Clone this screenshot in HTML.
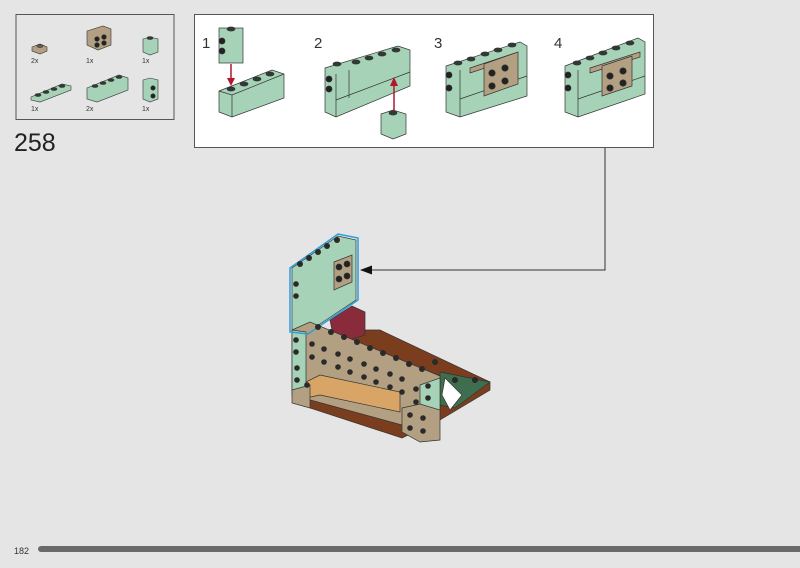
<!DOCTYPE html>
<html><head><meta charset="utf-8"><style>
html,body{margin:0;padding:0;background:#e5e5e5;}
svg{display:block}
text{font-family:"Liberation Sans",sans-serif}
</style></head><body>
<svg width="800" height="568" viewBox="0 0 800 568" xmlns="http://www.w3.org/2000/svg">
<rect width="800" height="568" fill="#e5e5e5"/>
<!-- parts box -->
<rect x="16" y="14.5" width="158" height="105" fill="#e5e5e5" stroke="#555" stroke-width="1"/>
<g stroke="#333" stroke-width="0.6">
<polygon points="32,47 40,44 47,47 47,51 40,54 32,51" fill="#b3a082"/><ellipse cx="40" cy="46" rx="3" ry="1.5" fill="#6b5b45"/>
<polygon points="87,31 103,26 111,29 111,45 98,50 87,45" fill="#b3a082"/>
<circle cx="97" cy="39" r="2.3" fill="#222"/><circle cx="104" cy="37" r="2.3" fill="#222"/><circle cx="97" cy="45" r="2.3" fill="#222"/><circle cx="104" cy="43" r="2.3" fill="#222"/>
<polygon points="143,39 150,37 158,39 158,52 150,55 143,52" fill="#a6d2b7"/><ellipse cx="150" cy="38" rx="3" ry="1.5" fill="#2f3b35"/>
<polygon points="31,97 62,84 71,86 71,90 40,102 31,100" fill="#a6d2b7"/>
<ellipse cx="38" cy="95" rx="3" ry="1.5" fill="#2f3b35"/><ellipse cx="46" cy="92" rx="3" ry="1.5" fill="#2f3b35"/><ellipse cx="54" cy="89" rx="3" ry="1.5" fill="#2f3b35"/><ellipse cx="62" cy="86" rx="3" ry="1.5" fill="#2f3b35"/>
<polygon points="87,88 119,75 128,78 128,90 97,102 87,99" fill="#a6d2b7"/>
<ellipse cx="95" cy="86" rx="3" ry="1.5" fill="#2f3b35"/><ellipse cx="103" cy="83" rx="3" ry="1.5" fill="#2f3b35"/><ellipse cx="111" cy="80" rx="3" ry="1.5" fill="#2f3b35"/><ellipse cx="119" cy="77" rx="3" ry="1.5" fill="#2f3b35"/>
<polygon points="143,80 150,78 158,80 158,99 150,102 143,99" fill="#a6d2b7"/><circle cx="153" cy="88" r="2.2" fill="#222"/><circle cx="153" cy="96" r="2.2" fill="#222"/>
</g>
<g font-size="7" fill="#333"><text x="31" y="63">2x</text><text x="86" y="63">1x</text><text x="142" y="63">1x</text><text x="31" y="111">1x</text><text x="86" y="111">2x</text><text x="142" y="111">1x</text></g>
<text x="14" y="151" font-size="25" fill="#222">258</text>
<!-- step box -->
<rect x="194.5" y="14.5" width="459" height="133" fill="#fff" stroke="#555" stroke-width="1"/>
<g font-size="15" fill="#333"><text x="202" y="48">1</text><text x="314" y="48">2</text><text x="434" y="48">3</text><text x="554" y="48">4</text></g>
<g stroke="#333" stroke-width="0.7" fill="#a6d2b7">
<rect x="219" y="28" width="24" height="35"/><ellipse cx="231" cy="29" rx="4" ry="2" fill="#2f3b35"/><circle cx="222" cy="41" r="3" fill="#222"/><circle cx="222" cy="51" r="3" fill="#222"/>
<polygon points="219,91 272,70 284,74 284,98 232,117 219,112"/><polyline points="219,91 232,95 284,74" fill="none"/><line x1="232" y1="95" x2="232" y2="117"/>
<ellipse cx="231" cy="89" rx="4" ry="2" fill="#2f3b35"/><ellipse cx="244" cy="84" rx="4" ry="2" fill="#2f3b35"/><ellipse cx="257" cy="79" rx="4" ry="2" fill="#2f3b35"/><ellipse cx="270" cy="74" rx="4" ry="2" fill="#2f3b35"/>
<polygon points="325,68 398,46 410,50 410,86 336,117 325,112"/><line x1="336" y1="74" x2="336" y2="117"/><line x1="349" y1="70" x2="349" y2="98"/><line x1="336" y1="100" x2="410" y2="72"/>
<ellipse cx="337" cy="64" rx="4" ry="2" fill="#2f3b35"/><ellipse cx="356" cy="62" rx="4" ry="2" fill="#2f3b35"/><ellipse cx="369" cy="58" rx="4" ry="2" fill="#2f3b35"/><ellipse cx="382" cy="54" rx="4" ry="2" fill="#2f3b35"/><ellipse cx="396" cy="50" rx="4" ry="2" fill="#2f3b35"/>
<circle cx="329" cy="79" r="3" fill="#222"/><circle cx="329" cy="89" r="3" fill="#222"/>
<polygon points="381,114 393,110 406,114 406,134 393,139 381,134"/><ellipse cx="393" cy="113" rx="4" ry="2" fill="#2f3b35"/>
<polygon points="446,66 520,42 527,46 527,96 460,117 446,112"/><line x1="460" y1="70" x2="460" y2="117"/><line x1="460" y1="99" x2="527" y2="76"/>
<polygon points="470,68 515,53 515,58 470,73" fill="#b3a082"/>
<polygon points="484,64 518,52 518,84 484,96" fill="#b3a082"/>
<circle cx="492" cy="73" r="3.2" fill="#222"/><circle cx="505" cy="68" r="3.2" fill="#222"/><circle cx="492" cy="86" r="3.2" fill="#222"/><circle cx="505" cy="81" r="3.2" fill="#222"/>
<ellipse cx="458" cy="63" rx="4" ry="2" fill="#2f3b35"/><ellipse cx="471" cy="59" rx="4" ry="2" fill="#2f3b35"/><ellipse cx="485" cy="54" rx="4" ry="2" fill="#2f3b35"/><ellipse cx="498" cy="50" rx="4" ry="2" fill="#2f3b35"/><ellipse cx="512" cy="45" rx="4" ry="2" fill="#2f3b35"/>
<circle cx="449" cy="75" r="3" fill="#222"/><circle cx="449" cy="88" r="3" fill="#222"/>
<polygon points="565,66 638,38 645,42 645,94 578,117 565,112"/><line x1="578" y1="70" x2="578" y2="117"/><line x1="578" y1="99" x2="645" y2="76"/>
<polygon points="590,68 640,52 640,57 590,73" fill="#b3a082"/>
<polygon points="602,66 632,56 632,86 602,96" fill="#b3a082"/>
<circle cx="610" cy="76" r="3.2" fill="#222"/><circle cx="623" cy="71" r="3.2" fill="#222"/><circle cx="610" cy="88" r="3.2" fill="#222"/><circle cx="623" cy="83" r="3.2" fill="#222"/>
<ellipse cx="577" cy="63" rx="4" ry="2" fill="#2f3b35"/><ellipse cx="590" cy="58" rx="4" ry="2" fill="#2f3b35"/><ellipse cx="603" cy="53" rx="4" ry="2" fill="#2f3b35"/><ellipse cx="616" cy="48" rx="4" ry="2" fill="#2f3b35"/><ellipse cx="630" cy="43" rx="4" ry="2" fill="#2f3b35"/>
<circle cx="568" cy="75" r="3" fill="#222"/><circle cx="568" cy="88" r="3" fill="#222"/>
</g>
<g stroke="#b3172e" stroke-width="1.5" fill="#b3172e">
<line x1="231" y1="64" x2="231" y2="80"/><polygon points="227,78 235,78 231,86" stroke="none"/>
<line x1="394" y1="110" x2="394" y2="84"/><polygon points="390,86 398,86 394,77" stroke="none"/>
</g>
<polyline points="605,148 605,270 370,270" fill="none" stroke="#333" stroke-width="1"/>
<polygon points="360,270 372,265.5 372,274.5" fill="#111"/>
<!-- main model -->
<g stroke="#333" stroke-width="0.7">
<polygon points="330,330 380,330 490,382 490,390 440,420 402,438 310,408 300,380" fill="#7a3e1f"/>
<polygon points="440,372 490,382 455,408 440,405" fill="#3f6e4e"/>
<polygon points="445,378 462,395 450,410 442,395" fill="#fff"/>
<polygon points="330,320 352,306 365,312 365,335 335,345" fill="#8a2b3c"/>
<polygon points="292,268 338,236 356,240 356,300 308,332 292,330" fill="#a6d2b7"/>
<polygon points="334,262 352,255 352,282 334,290" fill="#b3a082"/>
<circle cx="339" cy="267" r="3" fill="#222"/><circle cx="347" cy="264" r="3" fill="#222"/><circle cx="339" cy="279" r="3" fill="#222"/><circle cx="347" cy="276" r="3" fill="#222"/>
<polygon points="292,330 310,322 440,376 440,412 402,425 292,395" fill="#b3a082"/>
<polygon points="292,330 306,332 306,393 292,392" fill="#a6d2b7"/>
<polygon points="420,385 440,378 440,410 420,412" fill="#a6d2b7"/>
<polygon points="306,382 320,375 400,392 400,412 320,395 306,398" fill="#d9a566"/>
<polygon points="292,390 310,385 310,408 292,403" fill="#b3a082"/>
<polygon points="402,408 420,404 440,410 440,440 420,442 402,432" fill="#b3a082"/>
</g>
<polygon points="290,268 338,234 358,238 358,300 308,334 290,332" fill="none" stroke="#2a9fd8" stroke-width="1.5"/>
<g fill="#2a2a2a">
<circle cx="300" cy="264" r="3"/><circle cx="309" cy="258" r="3"/><circle cx="318" cy="252" r="3"/><circle cx="327" cy="246" r="3"/><circle cx="337" cy="240" r="3"/>
<circle cx="296" cy="284" r="2.8"/><circle cx="296" cy="296" r="2.8"/><circle cx="296" cy="340" r="2.8"/><circle cx="296" cy="352" r="2.8"/>
<circle cx="318" cy="327" r="3"/><circle cx="331" cy="332" r="3"/><circle cx="344" cy="337" r="3"/><circle cx="357" cy="342" r="3"/><circle cx="370" cy="348" r="3"/><circle cx="383" cy="353" r="3"/><circle cx="396" cy="358" r="3"/><circle cx="409" cy="364" r="3"/><circle cx="422" cy="369" r="3"/><circle cx="435" cy="362" r="3"/><circle cx="455" cy="380" r="3"/><circle cx="475" cy="380" r="3"/>
<circle cx="312" cy="344" r="2.8"/><circle cx="324" cy="349" r="2.8"/><circle cx="338" cy="354" r="2.8"/><circle cx="350" cy="359" r="2.8"/><circle cx="364" cy="364" r="2.8"/><circle cx="376" cy="369" r="2.8"/><circle cx="390" cy="374" r="2.8"/><circle cx="402" cy="379" r="2.8"/>
<circle cx="312" cy="357" r="2.8"/><circle cx="324" cy="362" r="2.8"/><circle cx="338" cy="367" r="2.8"/><circle cx="350" cy="372" r="2.8"/><circle cx="364" cy="377" r="2.8"/><circle cx="376" cy="382" r="2.8"/><circle cx="390" cy="387" r="2.8"/><circle cx="402" cy="392" r="2.8"/>
<circle cx="297" cy="368" r="2.8"/><circle cx="297" cy="380" r="2.8"/><circle cx="307" cy="385" r="2.8"/><circle cx="416" cy="389" r="2.8"/><circle cx="416" cy="402" r="2.8"/><circle cx="428" cy="386" r="2.8"/><circle cx="428" cy="398" r="2.8"/>
<circle cx="410" cy="415" r="2.8"/><circle cx="423" cy="418" r="2.8"/><circle cx="410" cy="428" r="2.8"/><circle cx="423" cy="431" r="2.8"/>
</g>
<text x="14" y="554" font-size="9" fill="#333">182</text>
<rect x="38" y="546" width="770" height="6" rx="3" fill="#6a6a6a"/>
</svg>
</body></html>
